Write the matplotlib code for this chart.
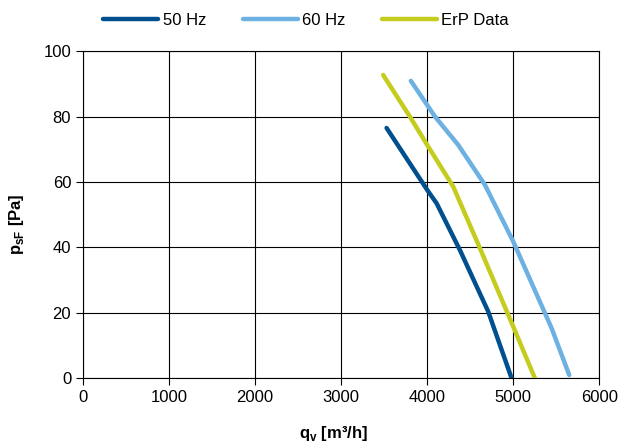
import matplotlib
matplotlib.use("Agg")
import matplotlib.pyplot as plt

plt.rcParams['font.family'] = ['Liberation Sans', 'DejaVu Sans']
plt.rcParams['mathtext.fontset'] = 'custom'
plt.rcParams['mathtext.rm'] = 'Liberation Sans'
plt.rcParams['mathtext.bf'] = 'Liberation Sans:bold'

# curves
q_50 = [3528, 4012, 4109, 4380, 4709, 4981]
p_50 = [76.5, 57.1, 53.5, 39.2, 20.4, 0]

q_60 = [3810, 4090, 4361, 4671, 5000, 5446, 5651]
p_60 = [90.9, 80.0, 71.3, 59.1, 41.8, 15.3, 1.0]

q_erp = [3488, 3798, 4012, 4302, 4612, 5000, 5252]
p_erp = [92.7, 80.0, 70.8, 58.6, 39.8, 15.8, 0]

labels = ["50 Hz", "60 Hz", "ErP Data"]
colors = ["#00508f", "#6cb1e1", "#c4cd1e"]

fig = plt.figure(figsize=(6.22, 4.48), dpi=100)
ax = fig.add_axes([0.1334, 0.1556, 0.8301, 0.7304])

for q, p, lab, c in zip([q_50, q_60, q_erp], [p_50, p_60, p_erp], labels, colors):
    ax.plot(q, p, color=c, lw=3.2, label=lab, solid_capstyle='round', zorder=3)

ax.set_xlim(0, 6000)
ax.set_ylim(0, 100)
ax.set_xticks(range(0, 6001, 1000))
ax.set_yticks(range(0, 101, 20))
ax.grid(True, color='black', lw=0.8)
for s in ax.spines.values():
    s.set_linewidth(0.8)
ax.tick_params(labelsize=12, length=5, width=0.8, direction='out')

ax.set_xlabel(r'$\mathbf{q}_{\mathbf{v}}$ [m³/h]', fontsize=12, fontweight='bold')
ax.xaxis.set_label_coords(0.485, -0.14)
ax.set_ylabel(r'$\mathbf{p}_{\mathbf{sF}}$ [Pa]', fontsize=12, fontweight='bold')
ax.yaxis.set_label_coords(-0.11, 0.47)

fig.legend(loc='center', bbox_to_anchor=(0.492, 0.955), ncol=3, frameon=False,
           fontsize=12, handlelength=3.3, columnspacing=2.2, handletextpad=0.25)

fig.savefig("out.png", dpi=100)
